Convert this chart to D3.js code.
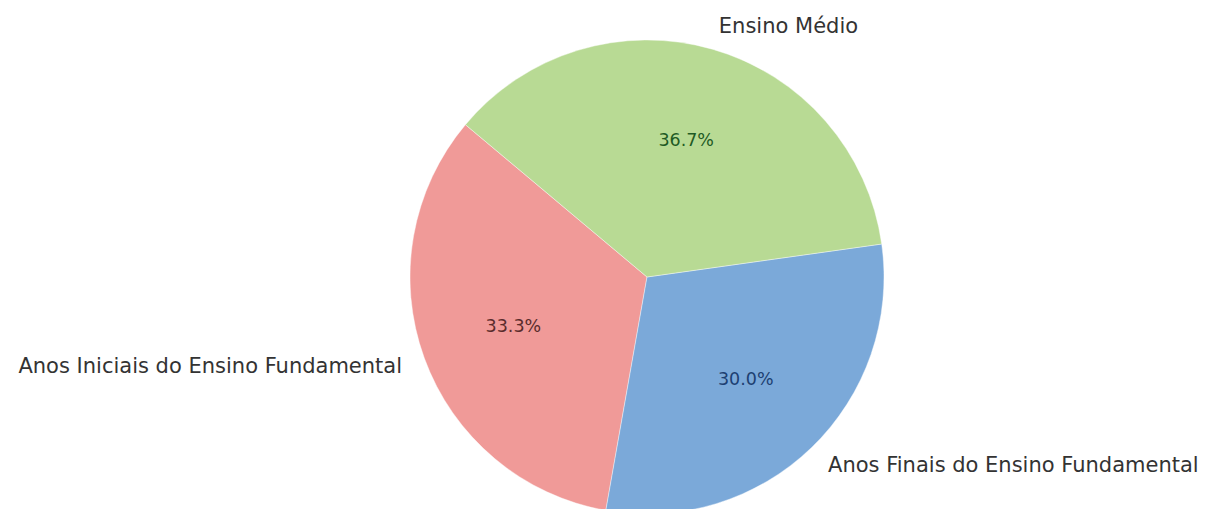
<!DOCTYPE html>
<html>
<head>
<meta charset="utf-8">
<script src="https://cdn.jsdelivr.net/npm/d3@7"></script>
<style>
  html, body { margin: 0; padding: 0; background: #fff; }
  svg { display: block; }
</style>
</head>
<body>
<svg id="chart" width="1207" height="509"></svg>
<script>
// Students per school stage
const categories = ["Anos Iniciais do Ensino Fundamental", "Anos Finais do Ensino Fundamental", "Ensino Médio"];
const values = [10, 9, 11];
const sliceColors = ["#f09a98", "#7ba9d9", "#b8da94"];
const pctColors = ["#5a2c2c", "#1d3f72", "#1f5a25"];

const W = 1207, H = 509;
const cx = 647, cy = 277, R = 237;
const startDeg = 140; // first wedge begins at 140° (counter-clockwise from east)

const svg = d3.select("#chart");
const g = svg.append("g").attr("transform", `translate(${cx},${cy})`);

// d3 angles run clockwise from 12 o'clock; wedges here run counter-clockwise
const a0 = (90 - startDeg) * Math.PI / 180;
const pie = d3.pie().sort(null).value(d => d).startAngle(a0).endAngle(a0 - 2 * Math.PI);
const arcs = pie(values);
const total = d3.sum(values);

const arc = d3.arc().innerRadius(0).outerRadius(R);

g.selectAll("path.slice")
  .data(arcs)
  .join("path")
  .attr("class", "slice")
  .attr("d", arc)
  .attr("fill", (d, i) => sliceColors[i])
  .attr("stroke", "#ffffff")
  .attr("stroke-opacity", 0.5)
  .attr("stroke-width", 0.8);

const pos = (d, k) => {
  const a = (d.startAngle + d.endAngle) / 2;
  return [k * R * Math.sin(a), -k * R * Math.cos(a)];
};

// Category labels outside the pie
g.selectAll("text.label")
  .data(arcs)
  .join("text")
  .attr("class", "label")
  .attr("x", d => pos(d, 1.1)[0])
  .attr("y", d => pos(d, 1.1)[1])
  .attr("text-anchor", d => pos(d, 1.1)[0] > 0 ? "start" : "end")
  .attr("dominant-baseline", "central")
  .attr("font-family", "DejaVu Sans, sans-serif")
  .attr("font-size", 21)
  .attr("fill", "#333333")
  .text((d, i) => categories[i]);

// Percentage labels inside each wedge
g.selectAll("text.pct")
  .data(arcs)
  .join("text")
  .attr("class", "pct")
  .attr("x", d => pos(d, 0.6)[0])
  .attr("y", d => pos(d, 0.6)[1])
  .attr("text-anchor", "middle")
  .attr("dominant-baseline", "central")
  .attr("font-family", "DejaVu Sans, sans-serif")
  .attr("font-size", 17.5)
  .attr("fill", (d, i) => pctColors[i])
  .text(d => (d.value / total * 100).toFixed(1) + "%");
</script>
</body>
</html>
